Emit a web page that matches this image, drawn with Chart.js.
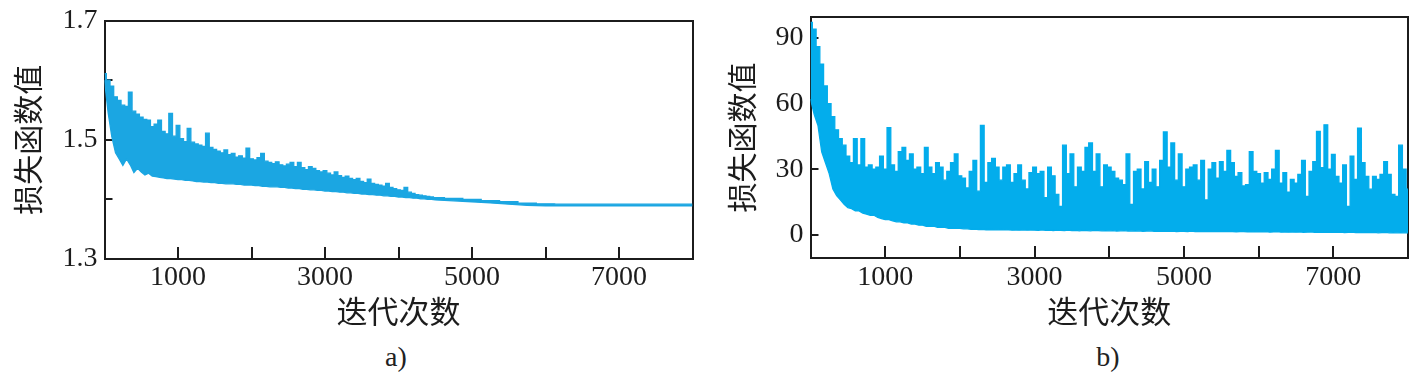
<!DOCTYPE html>
<html><head><meta charset="utf-8">
<script src="https://cdn.jsdelivr.net/npm/chart.js@4.4.1/dist/chart.umd.min.js"></script>
<style>
html,body{margin:0;padding:0;background:#fff;width:1425px;height:384px;overflow:hidden}
.wrap{position:absolute;top:0;height:330px}
#wa{left:0;width:712px}
#wb{left:712px;width:713px}
.cap{position:absolute;top:342px;height:30px;line-height:30px;font-size:28px;font-family:'Liberation Serif','Times New Roman',serif;color:#222;transform:translateX(-50%);white-space:nowrap}
</style></head><body>
<div class="wrap" id="wa"><canvas id="ca" width="712" height="330" style="width:712px;height:330px"></canvas></div>
<div class="wrap" id="wb"><canvas id="cb" width="713" height="330" style="width:713px;height:330px"></canvas></div>
<div class="cap" style="left:396px">a)</div>
<div class="cap" style="left:1108px">b)</div>
<script>
// ---------- data ----------
const STEP = 50; // iterations between sampled points
const xTickValues = [1000, 2000, 3000, 4000, 5000, 6000, 7000];
const xTickLabels = ['1000', '', '3000', '', '5000', '', '7000'];
const yTicksA = [1.3, 1.4, 1.5, 1.6, 1.7];
const yLabelsA = ['1.3', '', '1.5', '', '1.7'];
const yTicksB = [0, 30, 60, 90];
const yLabelsB = ['0', '30', '60', '90'];

// chart a: upper / lower envelope of the loss band, 0..4500 every 50 iterations
const aUpperHead = [1.611,1.600,1.590,1.572,1.566,1.558,1.556,1.580,1.548,1.543,
1.538,1.534,1.533,1.522,1.526,1.533,1.514,1.510,1.544,1.506,
1.524,1.502,1.497,1.519,1.496,1.493,1.491,1.489,1.511,1.487,
1.484,1.481,1.478,1.483,1.475,1.477,1.471,1.473,1.469,1.486,
1.468,1.466,1.470,1.477,1.464,1.462,1.460,1.463,1.458,1.456,
1.459,1.462,1.455,1.462,1.453,1.450,1.455,1.452,1.448,1.446,
1.448,1.444,1.441,1.446,1.440,1.437,1.439,1.435,1.433,1.435,
1.430,1.428,1.434,1.427,1.425,1.424,1.422,1.427,1.420,1.418,
1.416,1.415,1.420,1.412,1.410,1.408,1.407,1.406,1.405,1.404,1.403];
const aLowerHead = [1.600,1.545,1.505,1.478,1.468,1.457,1.468,1.458,1.445,1.452,
1.446,1.441,1.444,1.439,1.438,1.437,1.436,1.435,1.435,1.434,
1.433,1.433,1.432,1.432,1.431,1.430,1.430,1.429,1.429,1.428,
1.428,1.427,1.427,1.426,1.426,1.426,1.425,1.425,1.424,1.424,
1.424,1.423,1.423,1.422,1.422,1.421,1.421,1.421,1.420,1.420,
1.419,1.419,1.418,1.418,1.417,1.417,1.416,1.416,1.415,1.415,
1.414,1.414,1.413,1.413,1.412,1.412,1.411,1.411,1.410,1.410,
1.409,1.409,1.408,1.408,1.407,1.407,1.406,1.406,1.405,1.405,
1.404,1.404,1.403,1.403,1.402,1.402,1.401,1.401,1.400,1.400,1.399];
// chart a: smooth converged tail
const aTailX = [4750,5000,5250,5500,5750,6000,6250,6500,7000,7500,8000];
const aTailUpper = [1.4015,1.400,1.398,1.396,1.3935,1.3925,1.392,1.392,1.392,1.392,1.392];
const aTailLower = [1.3975,1.396,1.394,1.392,1.390,1.389,1.389,1.389,1.389,1.389,1.389];

// chart b: upper / lower envelope, 0..8000 every 50 iterations
const bUpper = [97,94,86,78,68,60,54,48,44,41,36,33,44,32,44,31,32,30,31,36,
30,49,32,29,38,40,34,37,30,31,28,40,31,28,33,31,25,29,33,37,
27,26,21.5,29,34,20,50,24,33,35,31,25,31,32,24,28,32,25,21,28.5,
31,28,29,17,31,27,18.5,13,41,28,37,22,31,29,40,42,29,37,22,32,
31,29,26,25,23,37,14,29,30,21,33.5,24,30,22,34,47,31,42,25,37,
22,30,31,32,25,34,16,30,33,26,33.5,29,38.6,33,26.7,28.5,22.4,23,38,29,
28,23.7,28.5,25.4,30,38.6,23.7,28.5,19.6,25.4,23.7,27.7,34,17.6,29,33.5,47.3,30.7,50.3,30,
36.8,26.7,23.7,32,13,36,25.4,48.8,33,26.7,20.9,26.7,25.4,27.7,33.5,27.7,18.5,17.6,41,30,20.9];
const bLower = [62,55,50,38,33,28,21,18,16,14,12.5,12,11,11,10,9.5,9,9,8,7.5,
7,7,6.5,6,6,5.5,5.5,5,5,4.5,4.5,4,4,4,3.5,3.5,3.5,3,3,3,
3,2.8,2.8,2.6,2.7,2.5,2.6,2.4,2.5,2.4,2.3,2.5,2.3,2.4,2.2,2.3,2.2,2.4,2.2,2.3,
2.2,2.1,2.3,2.1,2.2,2.0,2.2,2.1,2.0,2.2,2.0,2.1,1.9,2.1,2.0,1.9,2.1,2.0,1.9,2.0,
1.9,2.0,1.8,1.9,2.0,1.8,1.9,1.8,1.9,1.7,1.8,1.9,1.7,1.8,1.7,1.8,1.7,1.8,1.6,1.7,
1.7,1.6,1.8,1.6,1.7,1.6,1.5,1.7,1.6,1.5,1.6,1.5,1.6,1.5,1.4,1.6,1.5,1.4,1.5,1.4,
1.5,1.4,1.5,1.3,1.4,1.5,1.3,1.4,1.3,1.4,1.3,1.4,1.2,1.3,1.4,1.2,1.3,1.2,1.3,1.2,
1.3,1.2,1.3,1.1,1.2,1.3,1.1,1.2,1.1,1.2,1.1,1.2,1.0,1.1,1.2,1.0,1.1,1.0,1.1,1.0,1.0];

// ---------- build ----------
const SERIF = "'Liberation Serif','Times New Roman',serif";
const CJK = "'Noto Sans CJK SC','Noto Sans CJK JP',sans-serif";
const INK = '#1c1c1c';

function pts(xs, ys){ return ys.map((y,i)=>({x:xs[i], y:y})); }

const xA = aUpperHead.map((_,i)=>i*STEP).concat(aTailX);
const aUpper = aUpperHead.concat(aTailUpper);
const aLower = aLowerHead.concat(aTailLower);
const xB = bUpper.map((_,i)=>i*STEP);

function zeroPad(s){ s.paddingTop = 0; s.paddingBottom = 0; s.paddingLeft = 0; s.paddingRight = 0; }

function frameAxis(pos, min, max){
  const horiz = (pos==='top');
  return {
    type:'linear', position:pos, min:min, max:max, display:true,
    grid:{display:false, drawTicks:false}, ticks:{display:false},
    border:{display:true, color:INK, width:2},
    afterFit: s => { if (horiz) s.height = 0; else s.width = 0; zeroPad(s); }
  };
}

function make(id, cfg){
  const C = cfg.color;
  new Chart(document.getElementById(id), {
    type:'line',
    data:{datasets:[
      {data:pts(cfg.xs, cfg.lower), borderColor:C, borderWidth:1.3, pointRadius:0, fill:false, tension:0},
      {data:pts(cfg.xs, cfg.upper), borderColor:C, borderWidth:1.3, pointRadius:0, fill:'-1', backgroundColor:C, tension:0, stepped:'middle'}
    ]},
    options:{
      responsive:false, animation:false, devicePixelRatio:1,
      layout:{padding:cfg.pad},
      plugins:{legend:{display:false}, tooltip:{enabled:false}},
      scales:{
        x:{type:'linear', position:'bottom', min:0, max:8000,
          afterBuildTicks: s => { s.ticks = xTickValues.map(v=>({value:v})); },
          ticks:{autoSkip:false, maxRotation:0, padding:cfg.xPad, color:INK, font:{family:SERIF, size:28},
            callback: v => { const k = xTickValues.indexOf(v); return k<0 ? '' : xTickLabels[k]; }},
          grid:{display:true, drawOnChartArea:false, drawTicks:true, tickLength:-12, color:INK, lineWidth:2},
          border:{display:true, color:INK, width:2},
          title:{display:true, text:'迭代次数', color:INK, font:{family:CJK, size:31}, padding:{top:0, bottom:0}},
          afterFit: s => { s.height = cfg.xH; zeroPad(s); }
        },
        y:{type:'linear', position:'left', min:cfg.yMin, max:cfg.yMax,
          afterBuildTicks: s => { s.ticks = cfg.yTicks.map(v=>({value:v})); },
          ticks:{autoSkip:false, padding:15, color:INK, font:{family:SERIF, size:28},
            callback: v => { const k = cfg.yTicks.indexOf(v); return k<0 ? '' : cfg.yLabels[k]; }},
          grid:{display:true, drawOnChartArea:false, drawTicks:true, tickLength:-8, color:INK, lineWidth:2},
          border:{display:true, color:INK, width:2},
          title:{display:true, text:'损失函数值', color:INK, font:{family:CJK, size:30}, padding:{top:cfg.yTitlePad, bottom:0}},
          afterFit: s => { s.width = cfg.yW; zeroPad(s); }
        },
        xTop: frameAxis('top', 0, 8000),
        yRight: frameAxis('right', cfg.yMin, cfg.yMax)
      }
    }
  });
}

make('ca', {color:'#1ba6e2', xs:xA, upper:aUpper, lower:aLower,
  yMin:1.3, yMax:1.7, yTicks:yTicksA, yLabels:yLabelsA,
  pad:{left:0, top:20.5, right:19.5, bottom:0}, yW:104.5, xH:71, xPad:14, yTitlePad:10});
make('cb', {color:'#03adec', xs:xB, upper:bUpper, lower:bLower,
  yMin:-10.5, yMax:99.5, yTicks:yTicksB, yLabels:yLabelsB,
  pad:{left:0, top:17, right:17, bottom:0}, yW:98.5, xH:72, xPad:15, yTitlePad:12});
</script>
</body></html>
